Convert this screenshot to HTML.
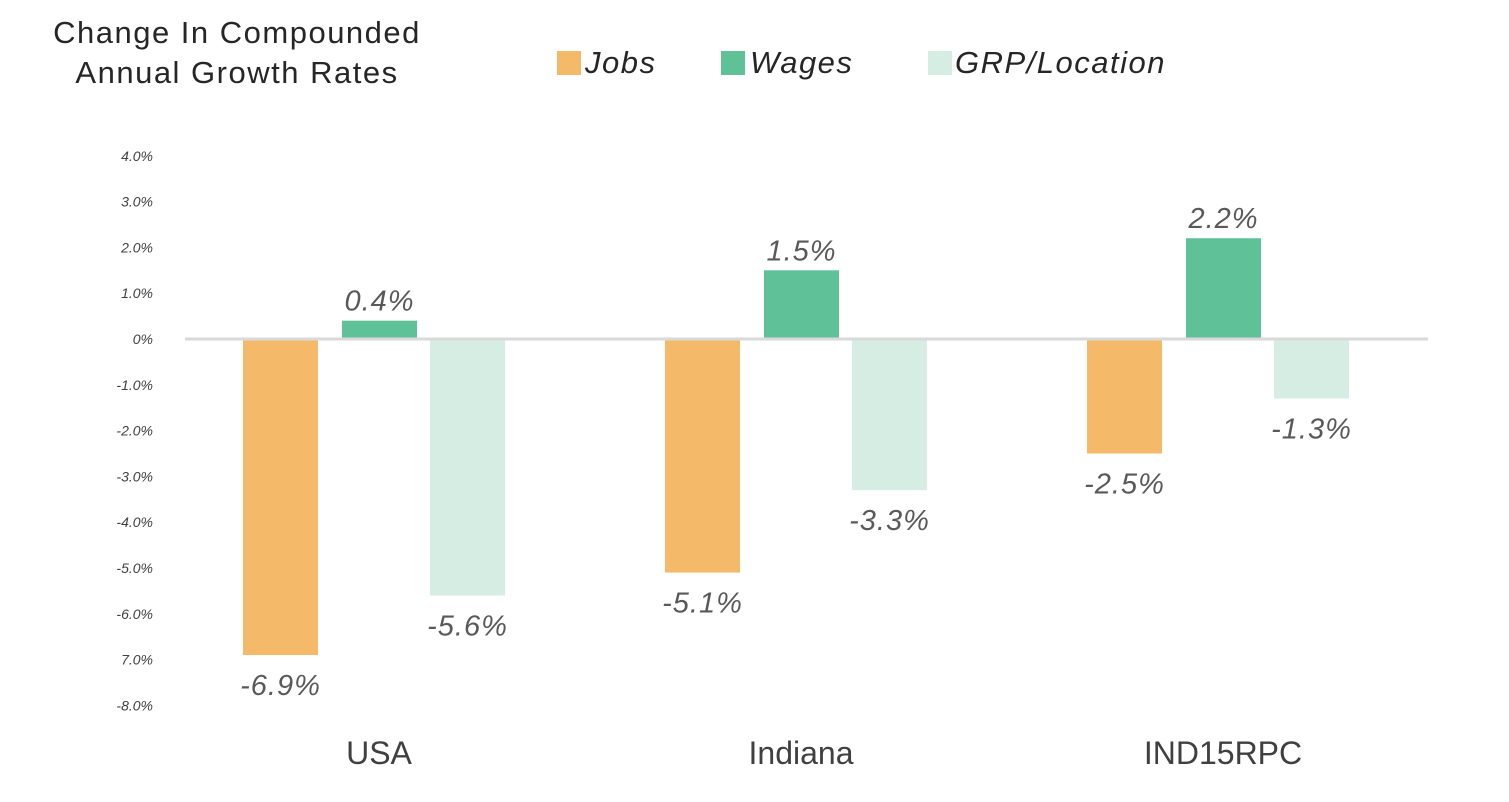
<!DOCTYPE html>
<html><head><meta charset="utf-8"><style>
body{margin:0;background:#fff;}
svg{display:block;font-family:"Liberation Sans",sans-serif;}
</style></head><body>
<svg id="chart" width="1509" height="802">
<g fill="#262626" font-size="31" letter-spacing="1.5" text-anchor="middle">
<text x="237" y="43">Change In Compounded</text>
<text x="237" y="83">Annual Growth Rates</text>
</g>
<g font-size="31" font-style="italic" letter-spacing="1.5" fill="#262626">
<rect x="557" y="51" width="24" height="24" fill="#F5B96A"/>
<text x="585" y="73">Jobs</text>
<rect x="721" y="51" width="24" height="24" fill="#5EC198"/>
<text x="750" y="73">Wages</text>
<rect x="928" y="51" width="24" height="24" fill="#D5EDE3"/>
<text x="955" y="73">GRP/Location</text>
</g>
<g id="ticks"></g><g id="bars"></g><g id="labels"></g>
<line x1="185" x2="1428" y1="339" y2="339" stroke="#d9d9d9" stroke-width="3"/>
</svg>
<script>
const categories=["USA","Indiana","IND15RPC"];
const jobs=[-6.9,-5.1,-2.5];
const wages=[0.4,1.5,2.2];
const grp=[-5.6,-3.3,-1.3];
const tickValues=[4,3,2,1,0,-1,-2,-3,-4,-5,-6,-7,-8];
const tickLabels=["4.0%","3.0%","2.0%","1.0%","0%","-1.0%","-2.0%","-3.0%","-4.0%","-5.0%","-6.0%","7.0%","-8.0%"];
const NS="http://www.w3.org/2000/svg";
function y(v){return 339-v*45.8;}
function gx(i){return 379+i*422;}
function mk(t,a,p){const e=document.createElementNS(NS,t);for(const k in a)e.setAttribute(k,a[k]);p.appendChild(e);return e;}
const T=document.getElementById('ticks'),B=document.getElementById('bars'),L=document.getElementById('labels');
tickValues.forEach((v,i)=>{
const t=mk('text',{x:153,y:y(v)+5,'text-anchor':'end','font-size':14,'font-style':'italic',fill:'#404040'},T);


t.textContent=tickLabels[i];});
const series=[[jobs,'#F5B96A','jobs',-136],[wages,'#5EC198','wages',-37],[grp,'#D5EDE3','grp',51]];
categories.forEach((c,i)=>{
const ct=mk('text',{x:gx(i),y:764,'text-anchor':'middle','font-size':32,fill:'#404040'},L);


ct.textContent=c;
series.forEach(([arr,col,nm,off])=>{
const v=arr[i],x=gx(i)+off,w=75;
const r=mk('rect',{x:x,y:Math.min(y(v),339),width:w,height:Math.abs(y(v)-339),fill:col},B);


const ly=v>=0?y(v)-10:y(v)+40;
const t=mk('text',{x:x+w/2,y:ly,'text-anchor':'middle','font-size':29,'font-style':'italic','letter-spacing':1,fill:'#595959'},L);


t.textContent=v.toFixed(1)+'%';});});
</script>
</body></html>
